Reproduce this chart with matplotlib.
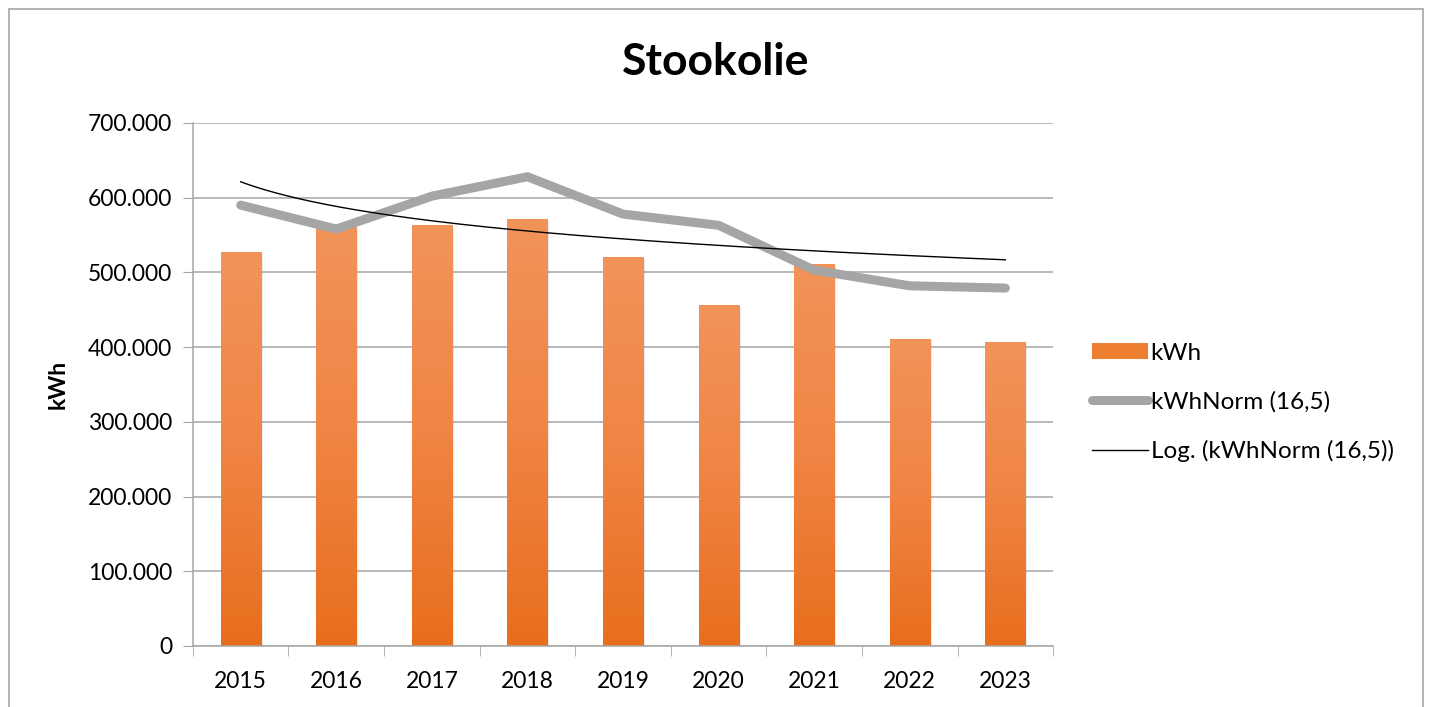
import numpy as np
import matplotlib.pyplot as plt
from matplotlib.ticker import FuncFormatter, FixedLocator
from matplotlib.lines import Line2D
from matplotlib.patches import Rectangle, Patch
from matplotlib.colors import LinearSegmentedColormap

plt.rcParams['font.family'] = ['Lato', 'DejaVu Sans']

years = ['2015', '2016', '2017', '2018', '2019', '2020', '2021', '2022', '2023']
kwh = [527000, 561000, 563000, 571000, 521000, 456000, 511000, 411000, 407000]
kwh_norm = [590000, 558000, 602000, 628000, 578000, 563000, 503000, 482000, 479000]

x = np.arange(len(years))

fig = plt.figure(figsize=(14.29, 7.07), dpi=100)
fig.patches.append(Rectangle((9 / 1429, -0.1), 1414 / 1429, 1.1 - 9 / 707,
                             transform=fig.transFigure, fill=False,
                             edgecolor='#A6A6A6', linewidth=1.2))
ax = fig.add_axes([0.135, 0.0863, 0.602, 0.7398])

# bars with vertical gradient (dark at bottom, lighter at top)
grad = LinearSegmentedColormap.from_list('org', ['#E86E1C', '#F08444', '#F29459'])
bars = ax.bar(x, kwh, width=0.42, color='none', zorder=2)
gimg = np.linspace(0, 1, 256).reshape(-1, 1)
for b in bars:
    bx, by = b.get_x(), b.get_y()
    w, h = b.get_width(), b.get_height()
    # soft shadow
    ax.add_patch(Rectangle((bx + 0.02, by), w, h - 3000, facecolor='#000000',
                           alpha=0.08, linewidth=0, zorder=1.5))
    im = ax.imshow(gimg, extent=(bx, bx + w, by, by + h), origin='lower',
                   cmap=grad, aspect='auto', zorder=2)
    im.set_clip_path(b)

ax.plot(x, kwh_norm, color='#A5A5A5', linewidth=6.5, solid_capstyle='round',
        solid_joinstyle='round', zorder=3)

# logarithmic trendline
lx = np.log(x + 1)
b_, a_ = np.polyfit(lx, kwh_norm, 1)
xt = np.linspace(0, len(years) - 1, 200)
ax.plot(xt, a_ + b_ * np.log(xt + 1), color='black', linewidth=1.0, zorder=4)

ax.set_xlim(-0.5, len(years) - 0.5)
ax.set_ylim(0, 700000)
ax.set_yticks(np.arange(0, 700001, 100000))
ax.yaxis.set_major_formatter(FuncFormatter(
    lambda v, p: '0' if v == 0 else f'{int(v):,}'.replace(',', '.')))
ax.set_xticks(x)
ax.set_xticklabels(years)
ax.xaxis.set_minor_locator(FixedLocator(np.arange(-0.5, len(years), 1)))
ax.tick_params(axis='x', which='major', length=0, labelsize=16.5, pad=18)
ax.tick_params(axis='x', which='minor', length=7, color='#A6A6A6')
ax.tick_params(axis='y', length=7, color='#A6A6A6', labelsize=16.5, pad=8)

ax.grid(axis='y', color='#A6A6A6', linewidth=1.1, zorder=0)
ax.set_axisbelow(True)
for s in ['top', 'right']:
    ax.spines[s].set_visible(False)
for s in ['left', 'bottom']:
    ax.spines[s].set_color('#A6A6A6')
    ax.spines[s].set_linewidth(1.1)

ax.set_ylabel('kWh', fontsize=16.5, fontweight='bold', labelpad=14)
fig.text(0.501, 0.912, 'Stookolie', ha='center', va='center',
         fontsize=32, fontweight='bold')

handles = [
    Patch(facecolor='#EE7F30', edgecolor='none'),
    Line2D([], [], color='#A5A5A5', linewidth=6.5, solid_capstyle='round'),
    Line2D([], [], color='black', linewidth=1.0),
]
labels = ['kWh', 'kWhNorm (16,5)', 'Log. (kWhNorm (16,5))']
fig.legend(handles, labels, loc='center left', bbox_to_anchor=(0.749, 0.431),
           frameon=False, fontsize=17.5, handlelength=2.3, handletextpad=0.1,
           labelspacing=1.12, handleheight=0.6)

fig.savefig('out.png', dpi=100)
